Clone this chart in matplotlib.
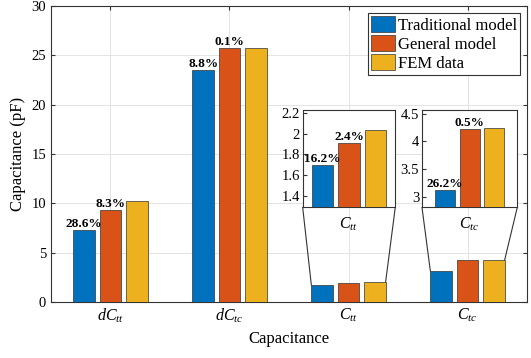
import numpy as np
import matplotlib
matplotlib.use("Agg")
import matplotlib.pyplot as plt
from matplotlib.patches import ConnectionPatch

plt.rcParams['font.family'] = ['Liberation Serif', 'DejaVu Serif']
plt.rcParams['mathtext.fontset'] = 'custom'
plt.rcParams['mathtext.rm'] = 'Liberation Serif'
plt.rcParams['mathtext.it'] = 'Liberation Serif:italic'

# datos
categorias = [r'$dC_{tt}$', r'$dC_{tc}$', r'$C_{tt}$', r'$C_{tc}$']
series = ['Traditional model', 'General model', 'FEM data']
tradicional = [7.30, 23.50, 1.70, 3.12]
general = [9.35, 25.77, 1.91, 4.22]
fem = [10.25, 25.75, 2.04, 4.25]
err_trad = ['28.6%', '8.8%', '16.2%', '26.2%']
err_gen = ['8.3%', '0.1%', '2.4%', '0.5%']
colores = ['#0072BD', '#D95319', '#EDB120']

x = np.arange(1, len(categorias) + 1)
offs = [-0.222, 0.0, 0.222]
w = 0.18
valores = [tradicional, general, fem]

fig = plt.figure(figsize=(5.31, 3.58), dpi=100)
ax = fig.add_axes([0.096, 0.1564, 0.8965, 0.8266])

for k in range(3):
    ax.bar(x + offs[k], valores[k], w, color=colores[k], edgecolor='#333333',
           linewidth=0.5, label=series[k], zorder=3)

for i in range(2):
    ax.text(x[i] + offs[0], tradicional[i], err_trad[i], ha='center', va='bottom',
            fontsize=9.5, fontweight='bold', zorder=4)
    ax.text(x[i] + offs[1], general[i], err_gen[i], ha='center', va='bottom',
            fontsize=9.5, fontweight='bold', zorder=4)

ax.set_xlim(0.5, 4.5)
ax.set_ylim(0, 30)
ax.set_yticks(np.arange(0, 31, 5))
ax.set_xticks(x)
ax.set_xticklabels(categorias, fontsize=11.5)
ax.tick_params(axis='y', labelsize=10.5)
ax.tick_params(direction='in', top=True, right=True, length=3, color='#333333')
ax.grid(True, color='#e3e3e3', linewidth=0.7, zorder=0)
for s in ax.spines.values():
    s.set_color('#333333')
    s.set_linewidth(0.8)
ax.set_xlabel('Capacitance', fontsize=12)
ax.set_ylabel('Capacitance (pF)', fontsize=12)

leg = ax.legend(loc='upper right', fontsize=12, fancybox=False, framealpha=1,
                edgecolor='#333333', handlelength=1.4, handleheight=1.05,
                labelspacing=0.1, handletextpad=0.2, borderpad=0.2,
                borderaxespad=0.4)
leg.get_frame().set_linewidth(0.8)

# insets para C_tt y C_tc
insets = [
    (2, [0.570, 0.421, 0.1744, 0.2718], 0.386, (1.29, 2.23), [1.4, 1.6, 1.8, 2.0, 2.2]),
    (3, [0.7947, 0.421, 0.1795, 0.2718], 0.431, (2.81, 4.57), [3.0, 3.5, 4.0, 4.5]),
]
for i, pos, half, ylim, yt in insets:
    axi = fig.add_axes(pos)
    axi.set_facecolor('white')
    axi.set_zorder(5)
    for k in range(3):
        axi.bar(x[i] + offs[k], valores[k][i], w, color=colores[k],
                edgecolor='#333333', linewidth=0.5, zorder=3)
    axi.text(x[i] + offs[0], tradicional[i], err_trad[i], ha='center', va='bottom',
             fontsize=9.5, fontweight='bold', zorder=4)
    axi.text(x[i] + offs[1], general[i], err_gen[i], ha='center', va='bottom',
             fontsize=9.5, fontweight='bold', zorder=4)
    axi.set_xlim(x[i] - half, x[i] + half)
    axi.set_ylim(*ylim)
    axi.set_yticks(yt)
    axi.set_yticklabels(['%g' % v for v in yt])
    axi.set_xticks([x[i]])
    axi.set_xticklabels([categorias[i]], fontsize=11.5)
    axi.tick_params(axis='x', length=0, pad=6)
    axi.tick_params(axis='y', direction='in', length=3, labelsize=10.5,
                    color='#333333', pad=2)
    for s in axi.spines.values():
        s.set_color('#333333')
        s.set_linewidth(0.8)
    # lineas de conexion
    for xa, xb, yb in [(0, x[i] + offs[0] - w / 2, tradicional[i]),
                       (1, x[i] + offs[2] + w / 2, fem[i])]:
        con = ConnectionPatch(xyA=(xa, 0), coordsA=axi.transAxes,
                              xyB=(xb, yb), coordsB=ax.transData,
                              color='#333333', linewidth=0.8)
        fig.add_artist(con)

fig.savefig('out.png', dpi=100)
